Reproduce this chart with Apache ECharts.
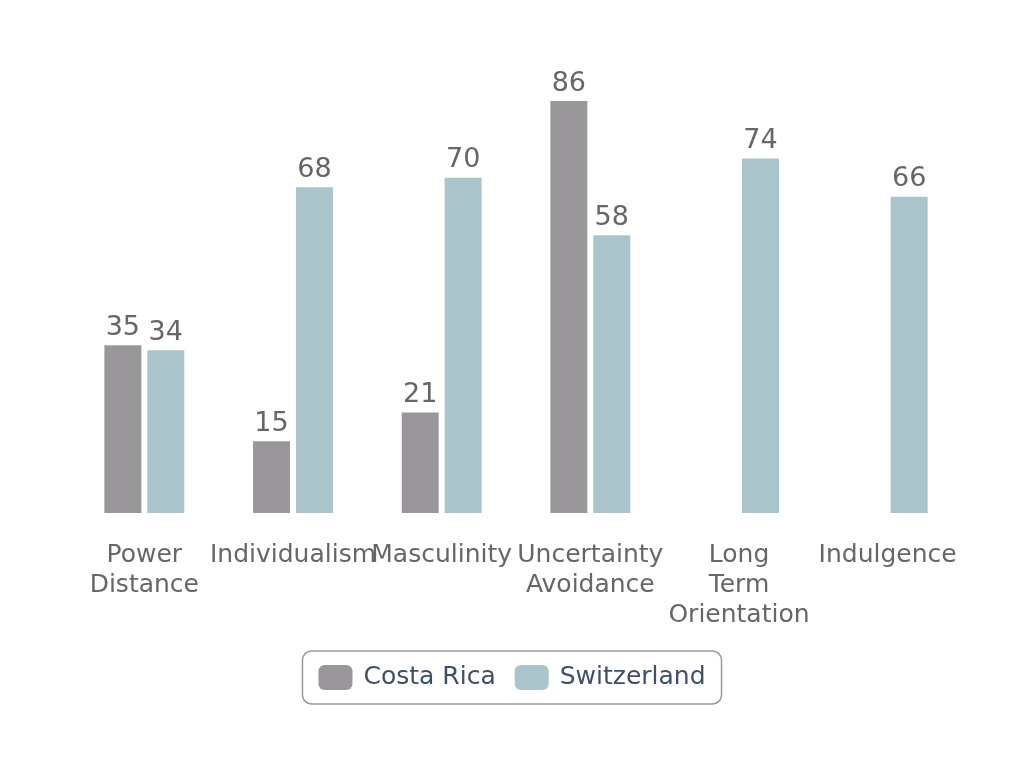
<!DOCTYPE html>
<html>
<head>
<meta charset="utf-8">
<script src="https://cdn.jsdelivr.net/npm/echarts@6/dist/echarts.min.js"></script>
<style>
html,body{margin:0;padding:0;background:#fff;}
#chart{width:1024px;height:768px;}
</style>
</head>
<body>
<div id="chart"></div>
<script>
const categories = ["Power\nDistance", "Individualism", "Masculinity", "Uncertainty\nAvoidance", "Long\nTerm\nOrientation", "Indulgence"];
const seriesNames = ["Costa Rica", "Switzerland"];
const costaRica = [35, 15, 21, 86, null, null];
const switzerland = [34, 68, 70, 58, 74, 66];

const chart = echarts.init(document.getElementById('chart'));
const font = 'DejaVu Sans';
const labelStyle = {
  show: true, position: 'top', distance: 4,
  fontFamily: font, fontSize: 27, color: '#666666'
};
chart.setOption({
  backgroundColor: '#ffffff',
  animation: false,
  grid: { left: 70, right: 62, top: 34, bottom: 255 },
  xAxis: {
    type: 'category',
    data: categories,
    axisLine: { show: false },
    axisTick: { show: false },
    axisLabel: {
      interval: 0, margin: 27, hideOverlap: false,
      fontFamily: font, fontSize: 25, lineHeight: 30, color: '#666666'
    }
  },
  yAxis: {
    type: 'value', min: 0, max: 100, show: false,
    splitLine: { show: false }
  },
  legend: {
    bottom: 64, left: 'center',
    data: seriesNames,
    itemWidth: 34, itemHeight: 25, itemGap: 19,
    padding: [14, 16, 14, 16],
    borderColor: '#9a9a9a', borderWidth: 1.5, borderRadius: 9,
    itemStyle: { borderRadius: 3 },
    textStyle: { fontFamily: font, fontSize: 25, color: '#3d5068', padding: [3, 0, 0, 6] },
    icon: 'roundRect'
  },
  series: [
    {
      name: seriesNames[0], type: 'bar', data: costaRica,
      barWidth: 37, barGap: '16%',
      itemStyle: { color: '#9a979a' },
      label: labelStyle
    },
    {
      name: seriesNames[1], type: 'bar', data: switzerland,
      barWidth: 37,
      itemStyle: { color: '#a9c4ca' },
      label: labelStyle
    }
  ]
});
</script>
</body>
</html>
